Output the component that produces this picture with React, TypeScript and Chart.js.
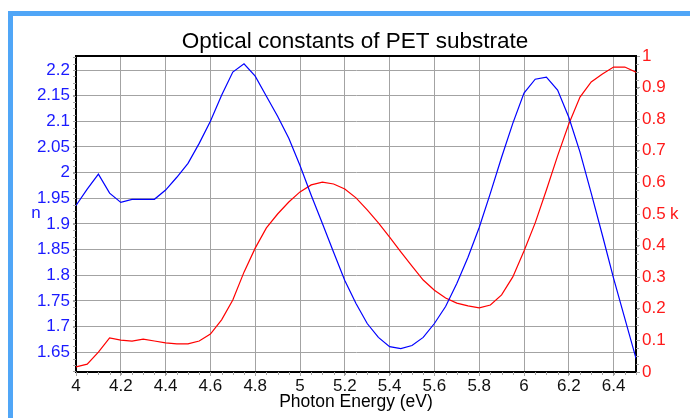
import React, { useEffect, useRef } from "react";
import { Chart, registerables } from "chart.js";

Chart.register(...registerables);

const TITLE = "Optical constants of PET substrate";
const X_TITLE = "Photon Energy (eV)";

const energy = [
  4.0, 4.05, 4.1, 4.15, 4.2, 4.25, 4.3, 4.35, 4.4, 4.45,
  4.5, 4.55, 4.6, 4.65, 4.7, 4.75, 4.8, 4.85, 4.9, 4.95,
  5.0, 5.05, 5.1, 5.15, 5.2, 5.25, 5.3, 5.35, 5.4, 5.45,
  5.5, 5.55, 5.6, 5.65, 5.7, 5.75, 5.8, 5.85, 5.9, 5.95,
  6.0, 6.05, 6.1, 6.15, 6.2, 6.25, 6.3, 6.35, 6.4, 6.45, 6.5,
];

const nValues = [
  1.936, 1.968, 1.997, 1.96, 1.942, 1.948, 1.948, 1.948, 1.966, 1.991,
  2.018, 2.057, 2.1, 2.151, 2.196, 2.212, 2.188, 2.149, 2.11, 2.067,
  2.014, 1.956, 1.901, 1.845, 1.79, 1.745, 1.706, 1.679, 1.661, 1.657,
  1.663, 1.679, 1.706, 1.739, 1.784, 1.835, 1.893, 1.96, 2.03, 2.096,
  2.155, 2.182, 2.186, 2.161, 2.108, 2.04, 1.96, 1.878, 1.794, 1.716, 1.638,
];

const kValues = [
  0.016, 0.025, 0.063, 0.108, 0.101, 0.098, 0.104, 0.098, 0.092, 0.089,
  0.089, 0.098, 0.12, 0.165, 0.228, 0.316, 0.392, 0.456, 0.5, 0.538,
  0.57, 0.592, 0.601, 0.595, 0.579, 0.551, 0.513, 0.472, 0.427, 0.38,
  0.335, 0.291, 0.259, 0.234, 0.218, 0.209, 0.203, 0.212, 0.244, 0.301,
  0.383, 0.472, 0.576, 0.684, 0.785, 0.87, 0.918, 0.943, 0.965, 0.965, 0.949,
];

const xRange = [4, 6.5];
const nRange = [1.6115, 2.2273];
const kRange = [0, 1];
const xStep = 0.2;
const nStep = 0.05;
const kStep = 0.1;

const BLUE = "#0000ff";
const RED = "#ff0000";
const BLUE_TEXT = "#1a1aff";
const RED_TEXT = "#ff1a1a";
const GRID = "#a3a3a3";
const FONT = "'Liberation Sans', Arial, sans-serif";

const fmt = (v: number) => String(Number(Number(v).toFixed(3)));

const decorPlugin = {
  id: "decor",
  afterDraw(chart: any) {
    const ctx = chart.ctx;
    const area = chart.chartArea;
    const sx = chart.scales.x;
    const sn = chart.scales.y;
    const sk = chart.scales.y1;
    ctx.save();
    // minor ticks
    ctx.strokeStyle = GRID;
    ctx.lineWidth = 1;
    ctx.beginPath();
    const xMinor = xStep / 4;
    for (let v = xRange[0]; v <= xRange[1] + 1e-9; v += xMinor) {
      const px = Math.round(sx.getPixelForValue(v)) + 0.5;
      ctx.moveTo(px, area.bottom);
      ctx.lineTo(px, area.bottom + 3);
    }
    const nMinor = nStep / 4;
    for (let v = Math.ceil(nRange[0] / nMinor) * nMinor; v <= nRange[1]; v += nMinor) {
      const py = Math.round(sn.getPixelForValue(v)) + 0.5;
      ctx.moveTo(area.left - 3, py);
      ctx.lineTo(area.left, py);
    }
    const kMinor = kStep / 4;
    for (let v = kRange[0]; v <= kRange[1] + 1e-9; v += kMinor) {
      const py = Math.round(sk.getPixelForValue(v)) + 0.5;
      ctx.moveTo(area.right, py);
      ctx.lineTo(area.right + 3, py);
    }
    ctx.stroke();
    // top border
    ctx.strokeStyle = "#000";
    ctx.lineWidth = 2;
    ctx.beginPath();
    ctx.moveTo(area.left - 1, area.top);
    ctx.lineTo(area.right + 1, area.top);
    ctx.stroke();
    // texts
    ctx.textAlign = "center";
    ctx.textBaseline = "middle";
    ctx.fillStyle = "#000";
    ctx.font = `22.5px ${FONT}`;
    ctx.fillText(TITLE, (area.left + area.right) / 2 - 1, 42);
    ctx.font = `17.5px ${FONT}`;
    ctx.fillText(X_TITLE, (area.left + area.right) / 2, 402);
    ctx.font = `17px ${FONT}`;
    ctx.fillStyle = BLUE_TEXT;
    ctx.fillText("n", 36, sk.getPixelForValue(0.5) - 1);
    ctx.fillStyle = RED_TEXT;
    ctx.textAlign = "left";
    ctx.fillText("k", 670, sk.getPixelForValue(0.5));
    ctx.restore();
  },
};

export default function App() {
  const ref = useRef<HTMLCanvasElement | null>(null);
  useEffect(() => {
    if (!ref.current) return;
    Chart.defaults.font.family = FONT;
    const chart = new Chart(ref.current, {
      type: "line",
      data: {
        datasets: [
          {
            label: "n",
            data: energy.map((x, i) => ({ x, y: nValues[i] })),
            borderColor: BLUE,
            borderWidth: 1.2,
            pointRadius: 0,
            tension: 0,
            yAxisID: "y",
          },
          {
            label: "k",
            data: energy.map((x, i) => ({ x, y: kValues[i] })),
            borderColor: RED,
            borderWidth: 1.2,
            pointRadius: 0,
            tension: 0,
            yAxisID: "y1",
          },
        ],
      },
      options: {
        responsive: false,
        animation: false,
        devicePixelRatio: 1,
        layout: { padding: { top: 56, left: 0, right: 0, bottom: 0 } },
        plugins: { legend: { display: false }, title: { display: false }, tooltip: { enabled: false } },
        scales: {
          x: {
            type: "linear",
            min: xRange[0],
            max: xRange[1],
            afterFit: (s: any) => { s.height = 46; },
            ticks: {
              stepSize: xStep,
              includeBounds: false,
              autoSkip: false,
              maxRotation: 0,
              color: "#111",
              font: { size: 17 },
              padding: 0,
              callback: (v: any) => fmt(v),
            },
            grid: { color: GRID, lineWidth: 1, tickLength: 4, tickColor: GRID },
            border: { color: "#000", width: 2 },
          },
          y: {
            type: "linear",
            position: "left",
            min: nRange[0],
            max: nRange[1],
            afterFit: (s: any) => { s.width = 76; },
            ticks: {
              stepSize: nStep,
              includeBounds: false,
              autoSkip: false,
              color: BLUE_TEXT,
              font: { size: 17 },
              padding: 3,
              callback: (v: any) => fmt(v),
            },
            grid: { color: GRID, lineWidth: 1, tickLength: 3, tickColor: GRID },
            border: { color: "#000", width: 2 },
          },
          y1: {
            type: "linear",
            position: "right",
            min: kRange[0],
            max: kRange[1],
            afterFit: (s: any) => { s.width = 54; },
            ticks: {
              stepSize: kStep,
              autoSkip: false,
              color: RED_TEXT,
              font: { size: 17 },
              padding: 2,
              callback: (v: any) => fmt(v),
            },
            grid: { drawOnChartArea: false, tickLength: 4, tickColor: GRID },
            border: { color: "#000", width: 2 },
          },
        },
      },
      plugins: [decorPlugin],
    });
    return () => chart.destroy();
  }, []);
  return (
    <div style={{ position: "fixed", left: 0, top: 0, width: 690, height: 418, background: "#fff", overflow: "hidden" }}>
      <div
        style={{
          position: "absolute",
          left: 8,
          top: 11,
          width: 800,
          height: 600,
          borderLeft: "5px solid #50a6f7",
          borderTop: "5px solid #50a6f7",
        }}
      />
      <canvas ref={ref} width={690} height={418} style={{ position: "absolute", left: 0, top: 0, width: 690, height: 418 }} />
    </div>
  );
}
